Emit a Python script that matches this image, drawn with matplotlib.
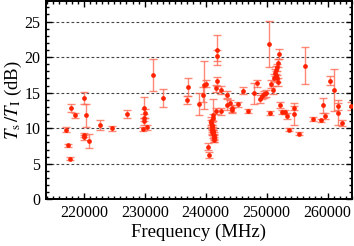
import matplotlib
matplotlib.use("Agg")
import matplotlib.pyplot as plt
from matplotlib.ticker import MultipleLocator
import numpy as np

freq = [217000, 217330, 217700, 217930, 218480, 220060, 220440, 220000, 220050, 220880,
        222740, 224700, 227170,
        229840, 230000, 229950, 229900, 229700, 230390,
        231310, 233010, 237160, 237000, 238970, 239510, 239730, 240060,
        240330, 240490, 241150,
        240900, 240950, 241000, 241050, 241100, 241150, 241200, 241250, 241300, 241350, 241400, 241450, 241000, 241100, 241200,
        241860, 241900, 241860, 241750, 242520, 241750, 242570,
        243500, 243500, 244050, 244380, 244380, 245310, 246130, 246950,
        247870, 248430, 248970, 249300, 249620, 249950, 250330, 250720, 251050, 250610,
        251300, 251450, 251600, 251750, 251900, 252050, 251500, 251700, 251900,
        252130, 252520, 253070, 253340, 253720, 254540, 254540, 255310, 256340,
        257540, 258910, 259340, 259620, 260440, 261100, 261800, 261800, 262360, 263900]
vals = [9.8, 7.6, 5.7, 12.8, 11.8, 14.2, 11.8, 9.0, 8.7, 8.2,
        10.5, 10.0, 12.0,
        12.9, 12.1, 11.5, 11.0, 9.9, 10.1,
        17.5, 14.3, 15.8, 14.0, 13.4, 14.7, 16.1, 16.25,
        7.4, 6.2, 11.9,
        11.0, 10.7, 10.3, 10.0, 9.8, 9.6, 9.4, 9.2, 9.0, 8.8, 8.6, 8.4, 9.5, 10.5, 11.5,
        21.0, 20.2, 16.6, 15.6, 15.4, 12.4, 12.4,
        14.7, 13.3, 13.6, 12.8, 12.5, 13.35, 15.3, 12.4,
        14.9, 16.3, 14.1, 14.5, 14.8, 14.9, 21.85, 16.2, 15.4, 12.1,
        17.1, 17.8, 18.2, 18.6, 19.2, 20.4, 17.5, 17.0, 16.5,
        13.3, 12.3, 12.3, 11.7, 9.8, 12.8, 12.0, 9.2, 18.8,
        11.3, 11.1, 13.2, 11.7, 16.7, 15.4, 13.1, 12.2, 10.7, 13.1]
errs = [0.4, 0.2, 0.2, 0.55, 0.3, 0.85, 1.6, 0.3, 0.4, 0.95,
        0.7, 0.35, 0.5,
        1.5, 0.6, 0.5, 0.5, 0.3, 0.4,
        2.2, 1.25, 1.3, 0.6, 1.5, 1.05, 3.4, 0.5,
        0.5, 0.4, 2.2,
        0.6, 0.5, 0.6, 0.5, 0.6, 0.5, 0.4, 0.6, 0.5, 0.4, 0.5, 0.4, 0.5, 0.6, 0.5,
        2.1, 0.8, 0.6, 0.5, 0.6, 0.4, 0.5,
        0.5, 0.8, 0.4, 0.5, 0.4, 0.4, 0.5, 0.3,
        1.5, 0.5, 0.6, 0.4, 0.5, 0.5, 3.3, 0.6, 0.6, 0.3,
        0.5, 0.5, 0.6, 0.5, 0.6, 0.7, 0.6, 0.5, 0.5,
        0.4, 0.3, 0.3, 0.4, 0.2, 0.3, 1.5, 0.2, 2.6,
        0.3, 0.2, 1.05, 0.4, 0.6, 2.95, 0.5, 1.8, 0.4, 0.6]

xticks = [220000, 230000, 240000, 250000, 260000]
yticks = [0, 5, 10, 15, 20, 25]

plt.rcParams['font.family'] = ['Liberation Serif', 'DejaVu Serif']
plt.rcParams['mathtext.fontset'] = 'stix'

fig = plt.figure(figsize=(3.54, 2.46), dpi=100)
ax = fig.add_axes([0.13, 0.19, 0.864, 0.806])

for y in [5, 10, 15, 20, 25]:
    ax.axhline(y, color='#444444', lw=0.8, ls=(0, (2.5, 2)), zorder=0)

ax.errorbar(freq, vals, yerr=errs, fmt='none', ecolor='#ff6a55', elinewidth=1.0,
            capsize=3, capthick=1.0, alpha=0.8, zorder=2)
ax.plot(freq, vals, 'o', color='#ff2200', ms=3.4, mec='none', zorder=3)

ax.set_xlim(213800, 264000)
ax.set_ylim(0, 27.9)
ax.set_xticks(xticks)
ax.set_xticklabels([str(t) for t in xticks])
ax.set_yticks(yticks)
ax.xaxis.set_minor_locator(MultipleLocator(1000))
ax.yaxis.set_minor_locator(MultipleLocator(1))
ax.tick_params(which='both', direction='in', top=True, right=True, labelsize=11.5, width=1)
ax.tick_params(which='major', length=4, pad=4)
ax.tick_params(which='minor', length=2)
for s in ax.spines.values():
    s.set_linewidth(1.4)

ax.set_xlabel('Frequency (MHz)', fontsize=13.5, labelpad=2)
ax.set_ylabel(r'$T_\mathrm{s}\,/T_\mathrm{I}$ (dB)', fontsize=13.5, labelpad=0)

fig.savefig('out.png', dpi=100)
